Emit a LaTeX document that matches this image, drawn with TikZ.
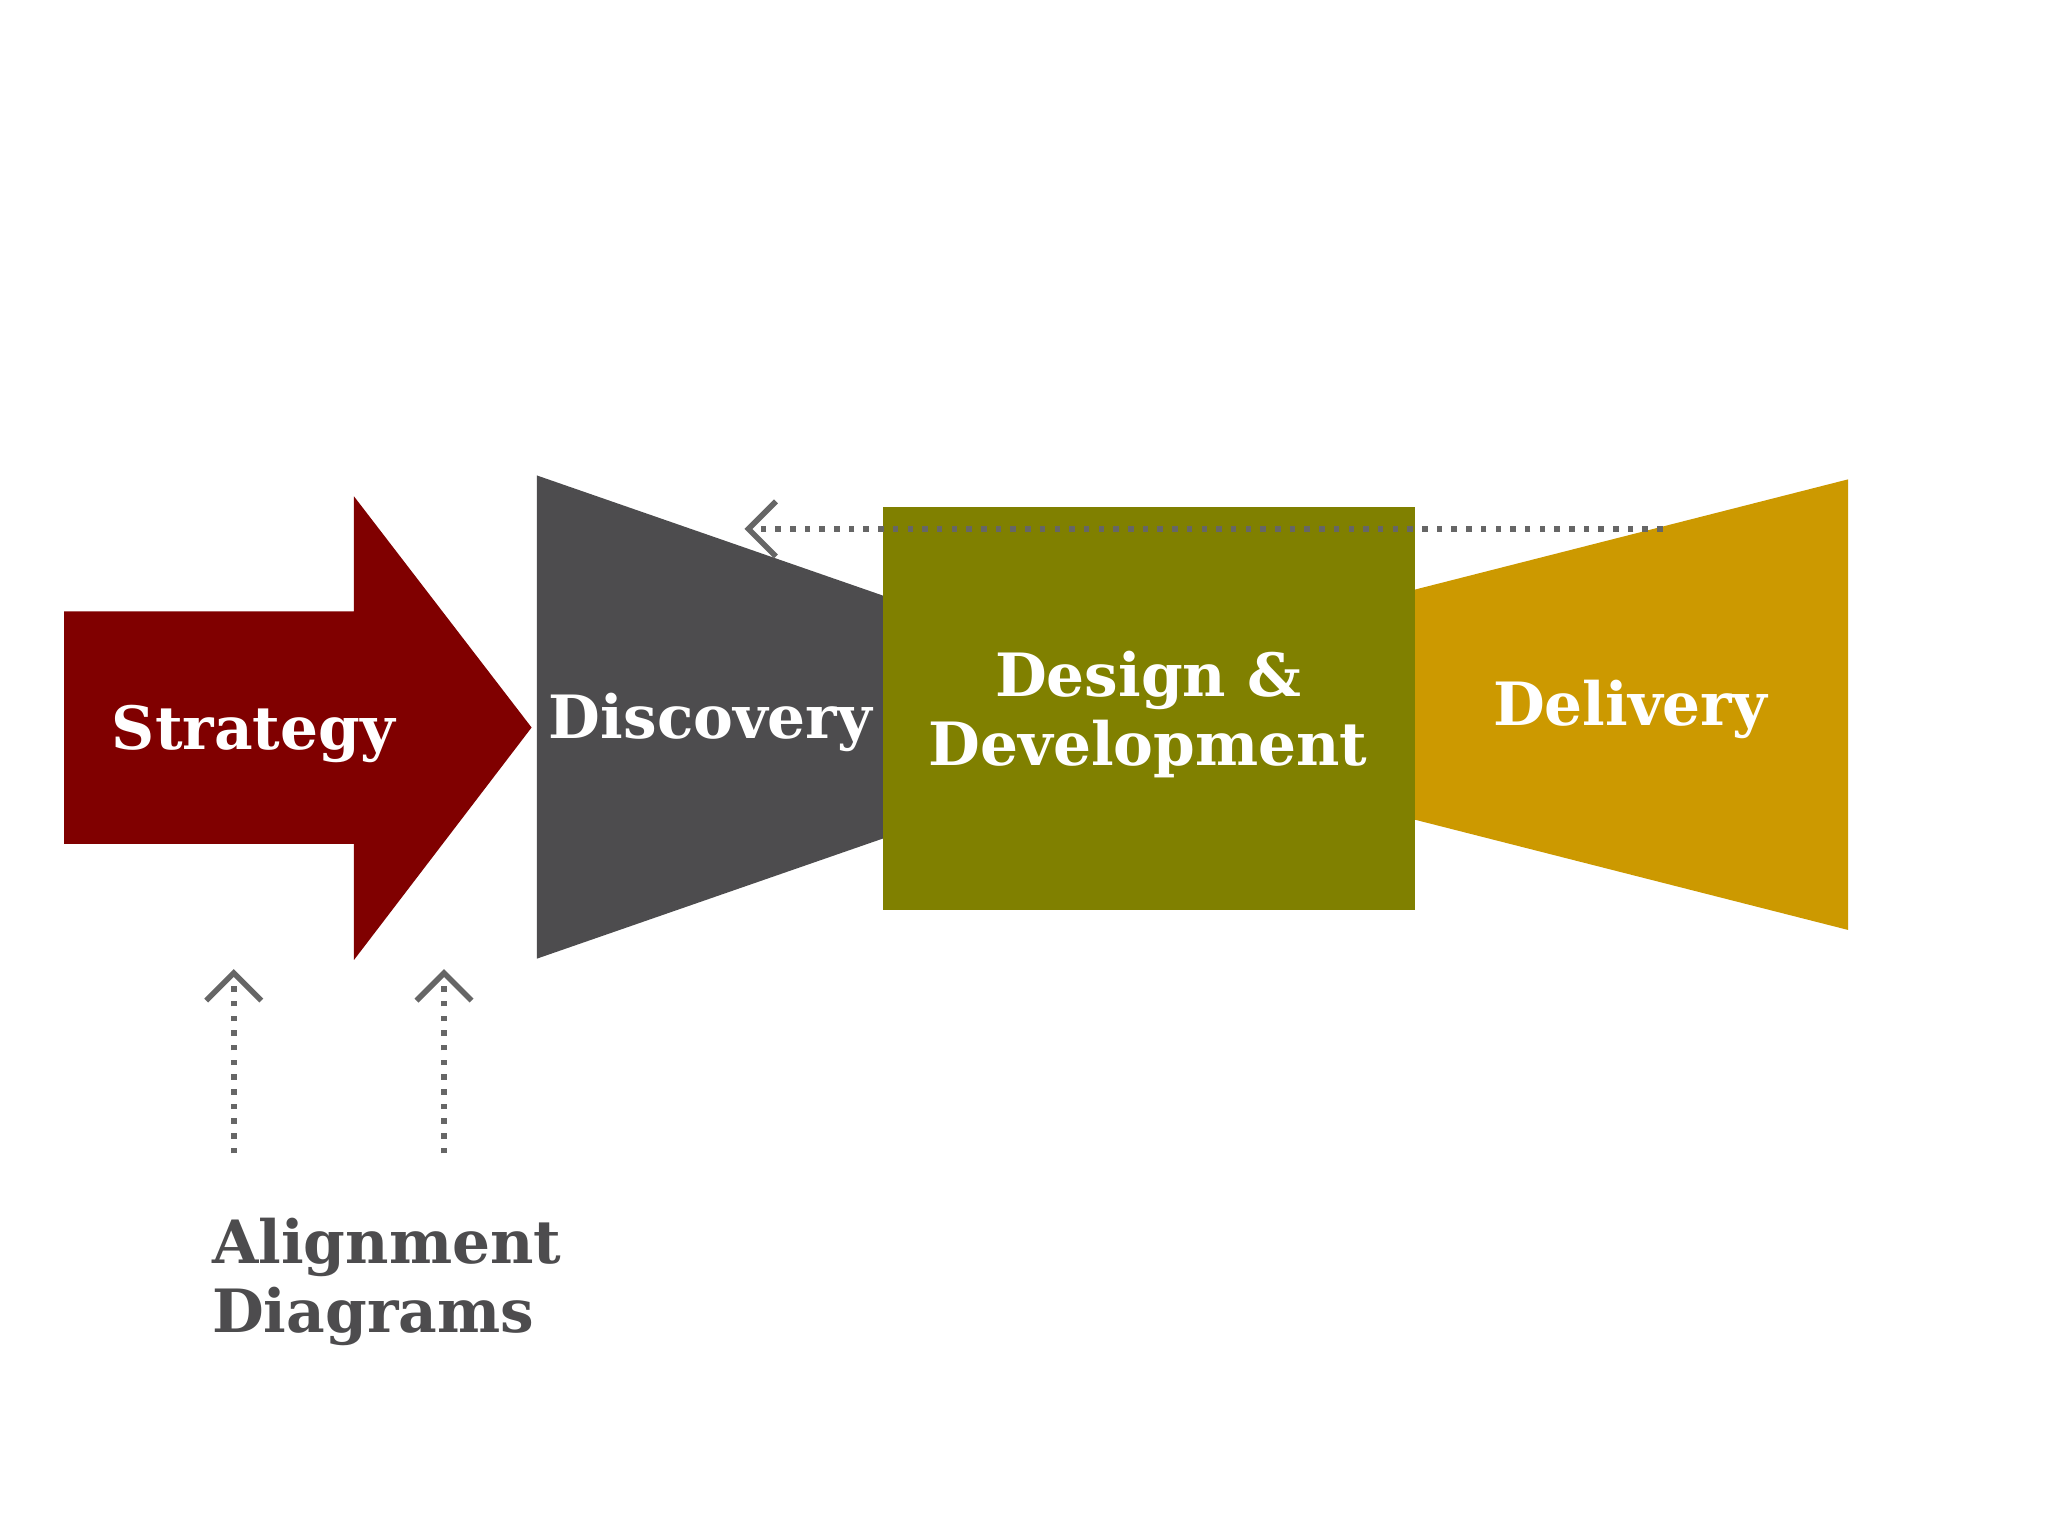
\documentclass[tikz,border=0pt]{standalone}
\usepackage{fontspec}
\setmainfont{DejaVu Serif}
\usetikzlibrary{arrows.meta}
\definecolor{strat}{HTML}{800000}
\definecolor{disc}{HTML}{4D4C4E}
\definecolor{dd}{HTML}{808000}
\definecolor{deliv}{HTML}{CC9900}
\definecolor{dots}{HTML}{666666}
\tikzset{lbl/.style={text=white,font=\bfseries\fontsize{13pt}{15pt}\selectfont,align=center},
 dotarr/.style={dots,line width=1.2pt,dotted,-{Straight Barb[length=6pt,width=12pt,line width=1.2pt]}}}
\begin{document}
\begin{tikzpicture}[x=0.01cm,y=-0.01cm]
\useasboundingbox[fill=white] (0,0) rectangle (1568,1176);
\fill[strat] (49,468) -- (271,468) -- (271,380) -- (407,557) -- (271,735) -- (271,646) -- (49,646) -- cycle;
\fill[disc] (411,364) -- (676,456) -- (676,642) -- (411,734) -- cycle;
\fill[deliv] (1081,452) -- (1415,367) -- (1415,712) -- (1081,627) -- cycle;
\fill[dd] (676,388) rectangle (1083,697);
\node[lbl] (s) at (194,562) {Strategy};
\node[lbl] (d) at (544,553) {Discovery};
\node[lbl] (dd) at (879,547) {Design \&\\Development};
\node[lbl] (dl) at (1248,543) {Delivery};
\coordinate (a1) at (1273,405); \coordinate (a2) at (570,405);
\draw[dotarr] (a1) -- (a2);
\coordinate (b1) at (179,883); \coordinate (b2) at (179,742);
\coordinate (c1) at (340,883); \coordinate (c2) at (340,742);
\draw[dotarr] (b1) -- (b2);
\draw[dotarr] (c1) -- (c2);
\node[text=disc,font=\bfseries\fontsize{13pt}{15pt}\selectfont,align=left,anchor=north west] (al) at (150,920) {Alignment\\Diagrams};
\end{tikzpicture}
\end{document}
